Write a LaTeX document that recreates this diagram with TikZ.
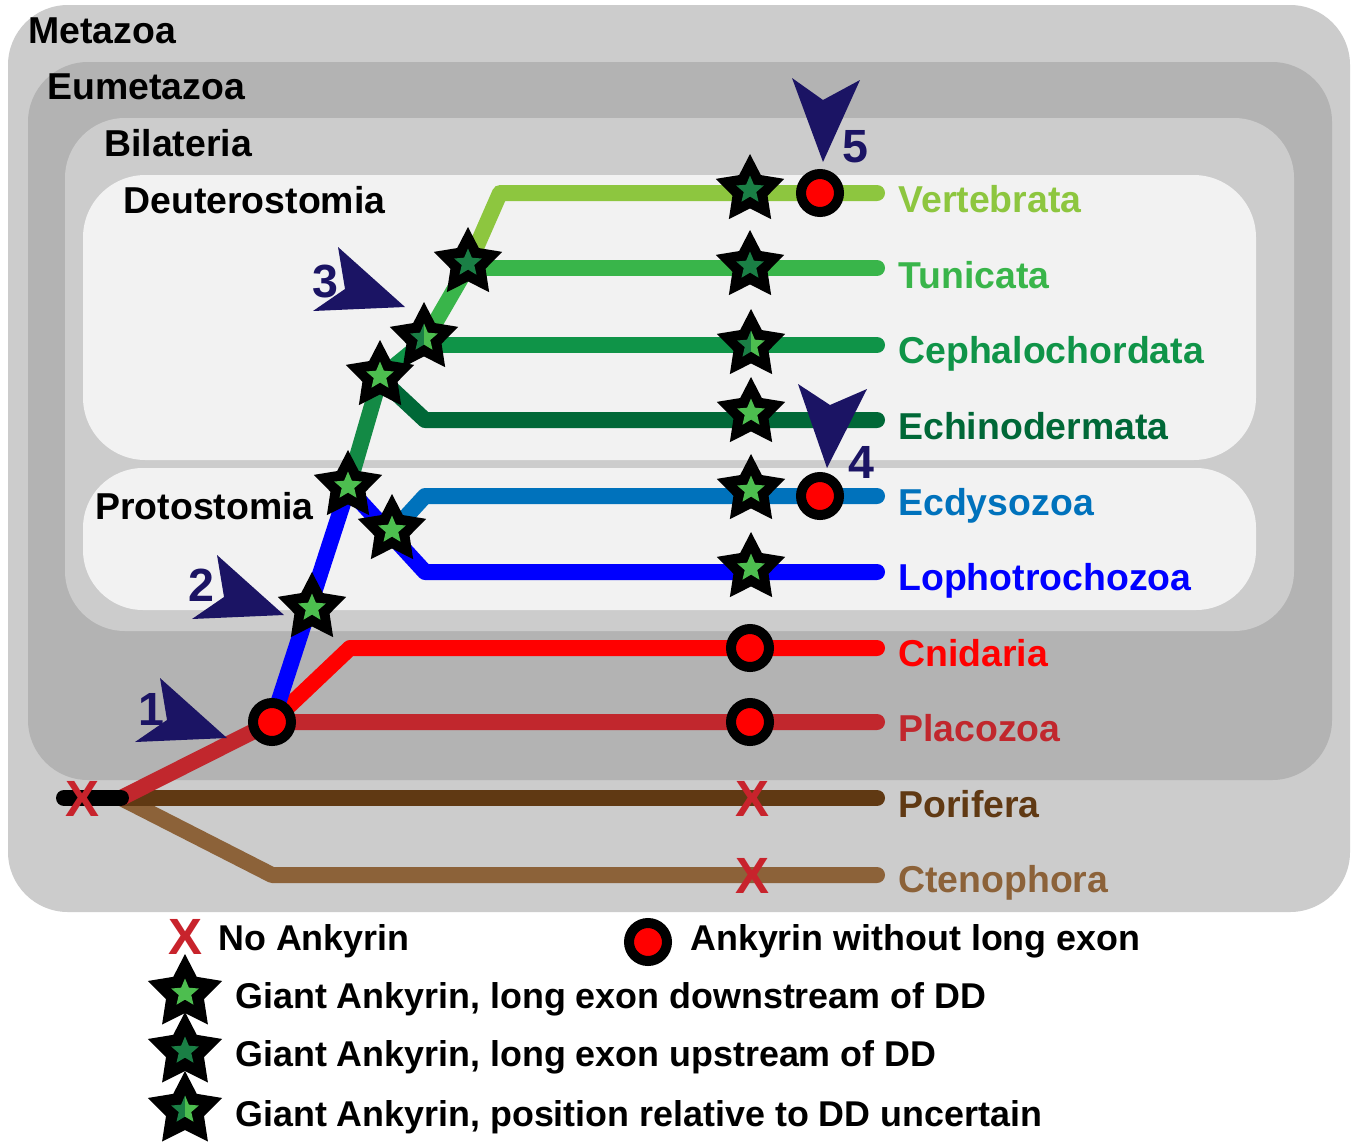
\documentclass[tikz,border=0pt]{standalone}
\usepackage{fontspec}
\setmainfont{Liberation Sans}
\usetikzlibrary{shapes.geometric}
\definecolor{boxA}{HTML}{CCCCCC}
\definecolor{boxB}{HTML}{B3B3B3}
\definecolor{boxC}{HTML}{F2F2F2}
\definecolor{cVert}{HTML}{8DC63F}
\definecolor{cTun}{HTML}{39B54A}
\definecolor{cCeph}{HTML}{0F9448}
\definecolor{cStem}{HTML}{138A45}
\definecolor{cEch}{HTML}{006837}
\definecolor{cEcd}{HTML}{0072BC}
\definecolor{cLoph}{HTML}{0000FF}
\definecolor{cCnid}{HTML}{FF0000}
\definecolor{cPlac}{HTML}{C1272D}
\definecolor{cPor}{HTML}{603913}
\definecolor{cCten}{HTML}{8C6239}
\definecolor{navy}{HTML}{1B1464}
\definecolor{ltgreen}{HTML}{4DBE4F}
\definecolor{dkgreen}{HTML}{1A7F45}
\definecolor{xred}{HTML}{C8232C}
\newcommand\lblfont{\fontsize{21.3}{25}\selectfont\bfseries}
\newcommand\legfont{\fontsize{20.4}{24}\selectfont\bfseries}
\newcommand\numfont{\fontsize{26.5}{30}\selectfont\bfseries}
\newcommand\giantL[3][]{\node[bigstar,#1] (#2) at (#3) {};\node[smallstar,fill=ltgreen] (#2i) at (#3) {};}
\newcommand\giantD[3][]{\node[bigstar,#1] (#2) at (#3) {};\node[smallstar,fill=dkgreen] (#2i) at (#3) {};}
\newcommand\giantH[3][]{\node[bigstar,#1] (#2) at (#3) {};%
 \begin{scope}\clip (#2.center) ++(-20,-20) rectangle ++(20,40);\node[smallstar,fill=dkgreen] (#2a) at (#3) {};\end{scope}%
 \begin{scope}\clip (#2.center) ++(0,-20) rectangle ++(20,40);\node[smallstar,fill=ltgreen] (#2b) at (#3) {};\end{scope}}
\begin{document}
\begin{tikzpicture}[x=0.02cm,y=-0.02cm,
  branch/.style={line width=0.32cm,line join=round,line cap=round},
  bigstar/.style={star,star points=5,star point ratio=1.95,minimum size=1.44cm,inner sep=0pt,fill=black},
  legstar/.style={minimum size=1.56cm},
  smallstar/.style={star,star points=5,star point ratio=2.2,minimum size=0.58cm,inner sep=0pt},
  lossdot/.style={circle,draw=black,line width=0.2cm,fill=red,minimum size=0.76cm,inner sep=0pt},
  nomark/.style={text=xred,font=\fontsize{29}{32}\selectfont\bfseries,inner sep=0pt},
  taxon/.style={anchor=base west,font=\lblfont,inner sep=0pt},
  legtext/.style={anchor=base west,font=\legfont,inner sep=0pt},
  numlabel/.style={anchor=base west,text=navy,font=\numfont,inner sep=0pt},
  pointer/.style={fill=navy}]
\useasboundingbox (0,0) rectangle (1352,1143);
\fill[white] (0,0) rectangle (1352,1143);
% nested clade boxes
\fill[boxA,rounded corners=1.2cm] (8,5) rectangle (1350,912);
\fill[boxB,rounded corners=1.2cm] (28,62) rectangle (1332,780);
\fill[boxA,rounded corners=1.2cm] (65,118) rectangle (1294,631);
\fill[boxC,rounded corners=1.25cm] (83,175) rectangle (1256,460);
\fill[boxC,rounded corners=1.2cm] (83,468) rectangle (1256,610);
\node[taxon] (metazoa) at (28,43) {Metazoa};
\node[taxon] (eumetazoa) at (47,99) {Eumetazoa};
\node[taxon] (bilateria) at (104,156) {Bilateria};
\node[taxon] (deutero) at (123,213) {Deuterostomia};
\node[taxon] (proto) at (95,519) {Protostomia};
% coordinates
\coordinate (root) at (121,798);
\coordinate (stubL) at (64,798);
\coordinate (plac) at (272,722);
\coordinate (cnidK) at (350,648);
\coordinate (protoJ) at (348,488);
\coordinate (lophK) at (425,572);
\coordinate (ecdJ) at (392,532);
\coordinate (ecdK) at (425,496);
\coordinate (deutJ) at (380,378);
\coordinate (echK) at (425,420);
\coordinate (cephJ) at (424,342);
\coordinate (cephK) at (430,345);
\coordinate (tunJ) at (468,266);
\coordinate (tunK) at (472,268);
\coordinate (vertK) at (500,193);
\coordinate (ctenK) at (272,875);
\coordinate (eVert) at (877,193);
\coordinate (eTun) at (877,268);
\coordinate (eCeph) at (877,345);
\coordinate (eEch) at (877,420);
\coordinate (eEcd) at (877,496);
\coordinate (eLoph) at (877,572);
\coordinate (eCnid) at (877,648);
\coordinate (ePlac) at (877,722);
\coordinate (ePor) at (877,798);
\coordinate (eCten) at (877,875);
% branches
\draw[branch,cCten] (root) -- (ctenK) -- (eCten);
\draw[branch,cPor] (root) -- (ePor);
\draw[branch,cPlac] (root) -- (plac) -- (ePlac);
\draw[branch,cCnid] (plac) -- (cnidK) -- (eCnid);
\draw[branch,cLoph] (plac) -- (protoJ) -- (lophK) -- (eLoph);
\draw[branch,cEcd] (ecdJ) -- (ecdK) -- (eEcd);
\draw[branch,cEch] (deutJ) -- (echK) -- (eEch);
\draw[branch,cStem] (protoJ) -- (deutJ);
\draw[branch,cCeph] (deutJ) -- (cephJ);
\draw[branch,cCeph] (cephK) -- (eCeph);
\draw[branch,cTun] (cephJ) -- (tunJ);
\draw[branch,cTun] (tunK) -- (eTun);
\draw[branch,cVert] (tunJ) -- (vertK) -- (eVert);
\draw[branch,black] (stubL) -- (root);
% markers on tree
\giantD{sV}{750,190}
\giantD{sT}{750,266}
\giantH{sC}{751,345}
\giantL{sE}{751,413}
\giantL{sEc}{751,490}
\giantL{sL}{751,568}
\giantL{sA}{312,608}
\giantL{sB}{348,486}
\giantL{sCc}{392,530}
\giantL{sD}{380,376}
\giantH{sF}{424,338}
\giantD{sG}{468,263}
\node[lossdot] (dPlac) at (272,722) {};
\node[lossdot] (dCnid) at (750,648) {};
\node[lossdot] (dPlac2) at (750,722) {};
\node[lossdot] (dVert) at (820,193) {};
\node[lossdot] (dEcd) at (820,496) {};
\node[nomark] (xRoot) at (82,799) {X};
\node[nomark] (xPor) at (752,799) {X};
\node[nomark] (xCten) at (752,876) {X};
% numbered pointers
\node[numlabel] (n1) at (138,725) {1};
\node[numlabel] (n2) at (188,601) {2};
\node[numlabel] (n3) at (312,297) {3};
\node[numlabel] (n4) at (848,478) {4};
\node[numlabel] (n5) at (842,162) {5};
\fill[pointer] (227,738) -- (160,678) -- (167,720) -- (135,742) -- cycle;
\fill[pointer] (284,615) -- (217,555) -- (224,597) -- (192,619) -- cycle;
\fill[pointer] (405,307) -- (338,247) -- (345,289) -- (313,311) -- cycle;
\fill[pointer] (823,162) -- (792,78) -- (823,100) -- (860,80) -- cycle;
\fill[pointer] (827,468) -- (798,384) -- (830,405) -- (867,389) -- cycle;
% taxon labels
\node[taxon,text=cVert] (lVert) at (898,212) {Vertebrata};
\node[taxon,text=cTun] (lTun) at (898,288) {Tunicata};
\node[taxon,text=cCeph] (lCeph) at (898,363) {Cephalochordata};
\node[taxon,text=cEch] (lEch) at (898,439) {Echinodermata};
\node[taxon,text=cEcd] (lEcd) at (898,515) {Ecdysozoa};
\node[taxon,text=cLoph] (lLoph) at (898,590) {Lophotrochozoa};
\node[taxon,text=cCnid] (lCnid) at (898,666) {Cnidaria};
\node[taxon,text=cPlac] (lPlac) at (898,741) {Placozoa};
\node[taxon,text=cPor] (lPor) at (898,817) {Porifera};
\node[taxon,text=cCten] (lCten) at (898,892) {Ctenophora};
% legend
\node[nomark] (legX) at (185,937) {X};
\node[legtext] (legXt) at (218,950) {No Ankyrin};
\node[lossdot] (legDot) at (648,942) {};
\node[legtext] (legDott) at (690,950) {Ankyrin without long exon};
\giantL[legstar]{legS1}{185,993}
\giantD[legstar]{legS2}{185,1051}
\giantH[legstar]{legS3}{185,1110}
\node[legtext] (legS1t) at (235,1008) {Giant Ankyrin, long exon downstream of DD};
\node[legtext] (legS2t) at (235,1066) {Giant Ankyrin, long exon upstream of DD};
\node[legtext] (legS3t) at (235,1126) {Giant Ankyrin, position relative to DD uncertain};
\end{tikzpicture}
\end{document}
